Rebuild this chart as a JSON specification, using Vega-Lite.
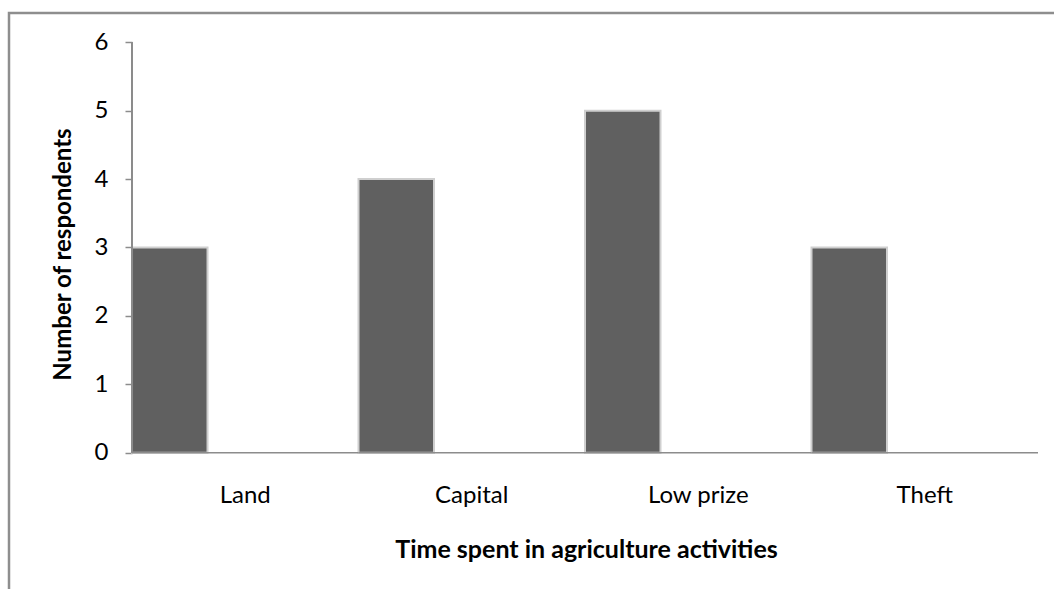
{
  "$schema": "https://vega.github.io/schema/vega-lite/v6.json",
  "width": 1050,
  "height": 580,
  "autosize": {"type": "none"},
  "padding": {"left": 9, "top": 13, "right": -5, "bottom": -4},
  "background": "white",
  "config": {
    "font": "Lato",
    "view": {"stroke": "#8e8e8e", "strokeWidth": 2.5},
    "axis": {"grid": false, "labelColor": "#000000", "titleColor": "#000000"}
  },
  "data": {
    "values": [
      {"cause": "Land", "series": "respondents", "count": 3},
      {"cause": "Capital", "series": "respondents", "count": 4},
      {"cause": "Low prize", "series": "respondents", "count": 5},
      {"cause": "Theft", "series": "respondents", "count": 3}
    ]
  },
  "layer": [
    {
      "mark": {"type": "bar", "fill": "#606060", "stroke": "#cfcfcf", "strokeWidth": 2},
      "encoding": {
        "x": {
          "field": "cause",
          "type": "nominal",
          "sort": null,
          "scale": {"paddingInner": 0, "paddingOuter": 0.3179, "align": 0.8542, "round": false},
          "axis": {
            "orient": "bottom",
            "offset": -140.3,
            "domain": false,
            "ticks": false,
            "labelAngle": 0,
            "labelFontSize": 24,
            "labelPadding": 31,
            "title": "Time spent in agriculture activities",
            "titleFontSize": 25,
            "titleFontWeight": "bold",
            "titleX": 577,
            "titleY": 104.3,
            "titleBaseline": "alphabetic",
            "titleAlign": "center"
          }
        },
        "xOffset": {
          "field": "series",
          "scale": {"domain": ["respondents", "spare1", "spare2"], "paddingInner": 0, "paddingOuter": 0}
        },
        "y": {
          "field": "count",
          "type": "quantitative",
          "scale": {"domain": [-2.0512, 6.4283], "nice": false, "zero": false},
          "axis": {
            "orient": "left",
            "offset": -123,
            "values": [0, 1, 2, 3, 4, 5, 6],
            "format": "d",
            "domain": false,
            "tickSize": 7,
            "tickColor": "#8c8c8c",
            "tickWidth": 1.5,
            "labelFontSize": 24,
            "labelPadding": 17,
            "title": "Number of respondents",
            "titleFontSize": 24,
            "titleFontWeight": "bold",
            "titleAngle": -90,
            "titleX": -62,
            "titleY": 241,
            "titleBaseline": "alphabetic",
            "titleAlign": "center"
          }
        },
        "y2": {"datum": 0}
      }
    },
    {
      "mark": {"type": "rect", "fill": null, "stroke": "#8c8c8c", "strokeWidth": 1.5},
      "encoding": {
        "x": {"field": "cause", "type": "nominal", "sort": null},
        "y": {"datum": 0},
        "y2": {"datum": 0}
      }
    },
    {
      "mark": {"type": "rule", "color": "#8c8c8c", "strokeWidth": 1.5},
      "encoding": {
        "x": {"datum": "Land", "bandPosition": 0},
        "y": {"datum": 0},
        "y2": {"datum": 6}
      }
    }
  ]
}
